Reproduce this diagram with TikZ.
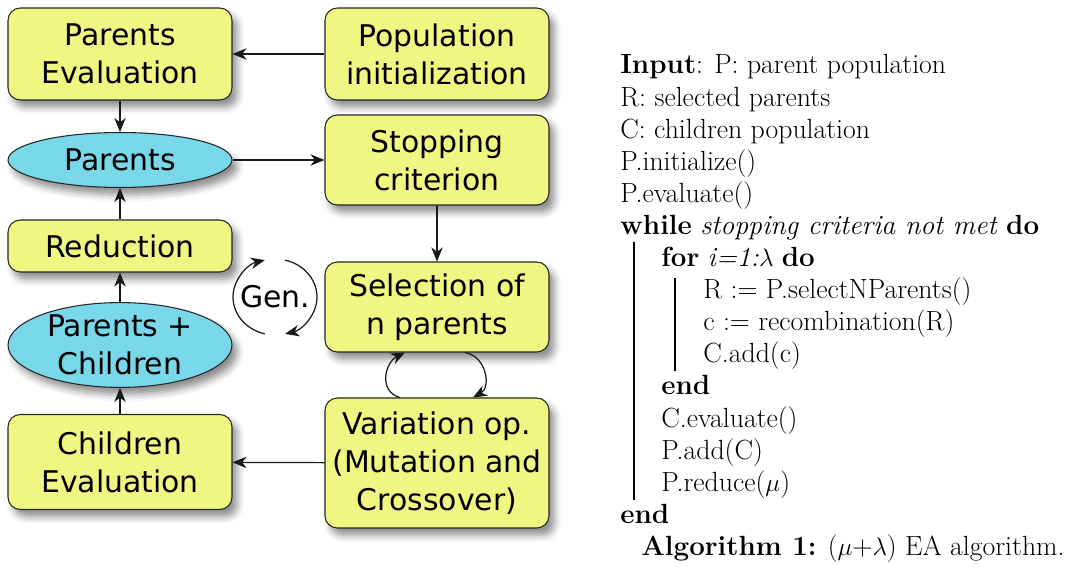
\documentclass[tikz,border=0pt]{standalone}
\usepackage{fontspec}
\newfontfamily\boxfont{DejaVu Sans}
\usetikzlibrary{arrows.meta,shapes.geometric,shadows.blur}
\definecolor{stageyellow}{RGB}{240,246,130}
\definecolor{popcyan}{RGB}{120,215,233}
\tikzset{shd/.style={blur shadow={shadow xshift=3pt, shadow yshift=-4pt, shadow blur radius=4pt, shadow opacity=45}},
         stage/.style={shd, draw=black!85, line width=0.6pt, rounded corners=7pt, fill=stageyellow,
                       align=center, minimum width=4.48cm, inner sep=2pt,
                       font=\boxfont\fontsize{17}{21.5}\selectfont},
         pop/.style={shd, ellipse, draw=black!85, line width=0.6pt, fill=popcyan, inner sep=0pt,
                     align=center, minimum width=4.48cm, font=\boxfont\fontsize{17}{21.5}\selectfont},
         flow/.style={draw=black!90, line width=0.7pt, -{Stealth[length=8pt,width=6.5pt,inset=2.5pt]}},
         algo/.style={anchor=base west, inner sep=0pt, font=\fontsize{15.8}{18.2}\selectfont}}

\begin{document}
\begin{tikzpicture}[x=0.02cm, y=-0.02cm]
  \useasboundingbox (0,0) rectangle (1069,567);

  % ---------- the loop of the EA ----------
  \node[stage, minimum height=1.84cm] (pareval)   at (120,54)  {Parents\\Evaluation};
  \node[stage, minimum height=1.84cm] (popinit)   at (437,54)  {Population\\initialization};
  \node[pop, minimum height=1.1cm]    (parents)   at (120,160) {Parents};
  \node[stage, minimum height=1.8cm]  (stopcrit)  at (437,160) {Stopping\\criterion};
  \node[stage, minimum height=1.04cm] (reduction) at (120,246) {Reduction};
  \node[stage, minimum height=1.8cm]  (select)    at (437,307) {Selection of\\n parents};
  \node[pop, minimum height=1.6cm]    (parchild)  at (120,345) {Parents +\\Children};
  \node[stage, minimum height=1.9cm]  (childeval) at (120,462) {Children\\Evaluation};
  \node[stage, minimum height=2.6cm]  (variation) at (437,463) {Variation op.\\(Mutation and\\Crossover)};
  \node[font=\boxfont\fontsize{17}{21.5}\selectfont, inner sep=0pt] (gen) at (275,297) {Gen.};

  \draw[flow] (popinit) -- (pareval);
  \draw[flow] (pareval) -- (parents);
  \draw[flow] (parents) -- (stopcrit);
  \draw[flow] (stopcrit) -- (select);
  \draw[flow] (variation) -- (childeval);
  \draw[flow] (childeval) -- (parchild);
  \draw[flow] (parchild) -- (reduction);
  \draw[flow] (reduction) -- (parents);

  % selection <-> variation round trip
  \draw[flow] ([xshift=-0.74cm]variation.north) .. controls +(-22,-6) and +(-20,10) .. ([xshift=-0.64cm]select.south);
  \draw[flow] ([xshift=0.56cm]select.south) .. controls +(22,4) and +(18,-10) .. ([xshift=0.72cm]variation.north);

  % generations circle
  \draw[flow] ([shift={(256:0.84cm and 0.76cm)}]gen.center) arc[start angle=256, end angle=104, x radius=0.84cm, y radius=0.76cm];
  \draw[flow] ([shift={(76:0.84cm and 0.76cm)}]gen.center) arc[start angle=76, end angle=-76, x radius=0.84cm, y radius=0.76cm];

  % ---------- the algorithm ----------
  \node[algo] (l0)  at (620,74)    {\textbf{Input}: P: parent population};
  \node[algo] (l1)  at (620,106.1) {R: selected parents};
  \node[algo] (l2)  at (620,138.2) {C: children population};
  \node[algo] (l3)  at (620,170.3) {P.initialize()};
  \node[algo] (l4)  at (620,202.4) {P.evaluate()};
  \node[algo] (l5)  at (620,234.5) {\textbf{while} \textit{stopping criteria not met} \textbf{do}};
  \node[algo] (l6)  at (661,266.6) {\textbf{for} \textit{i=1:$\lambda$} \textbf{do}};
  \node[algo] (l7)  at (703,298.7) {R := P.selectNParents()};
  \node[algo] (l8)  at (703,330.8) {c := recombination(R)};
  \node[algo] (l9)  at (703,362.9) {C.add(c)};
  \node[algo] (l10) at (661,395)   {\textbf{end}};
  \node[algo] (l11) at (661,427.1) {C.evaluate()};
  \node[algo] (l12) at (661,459.2) {P.add(C)};
  \node[algo] (l13) at (661,491.3) {P.reduce($\mu$)};
  \node[algo] (l14) at (620,523.4) {\textbf{end}};
  \node[algo] (l15) at (641,555.5) {\textbf{Algorithm 1:} ($\mu$+$\lambda$) EA algorithm.};

  \draw[line width=0.6pt] (634,242) -- (634,500);
  \draw[line width=0.6pt] (675,278) -- (675,371);

\end{tikzpicture}
\end{document}
